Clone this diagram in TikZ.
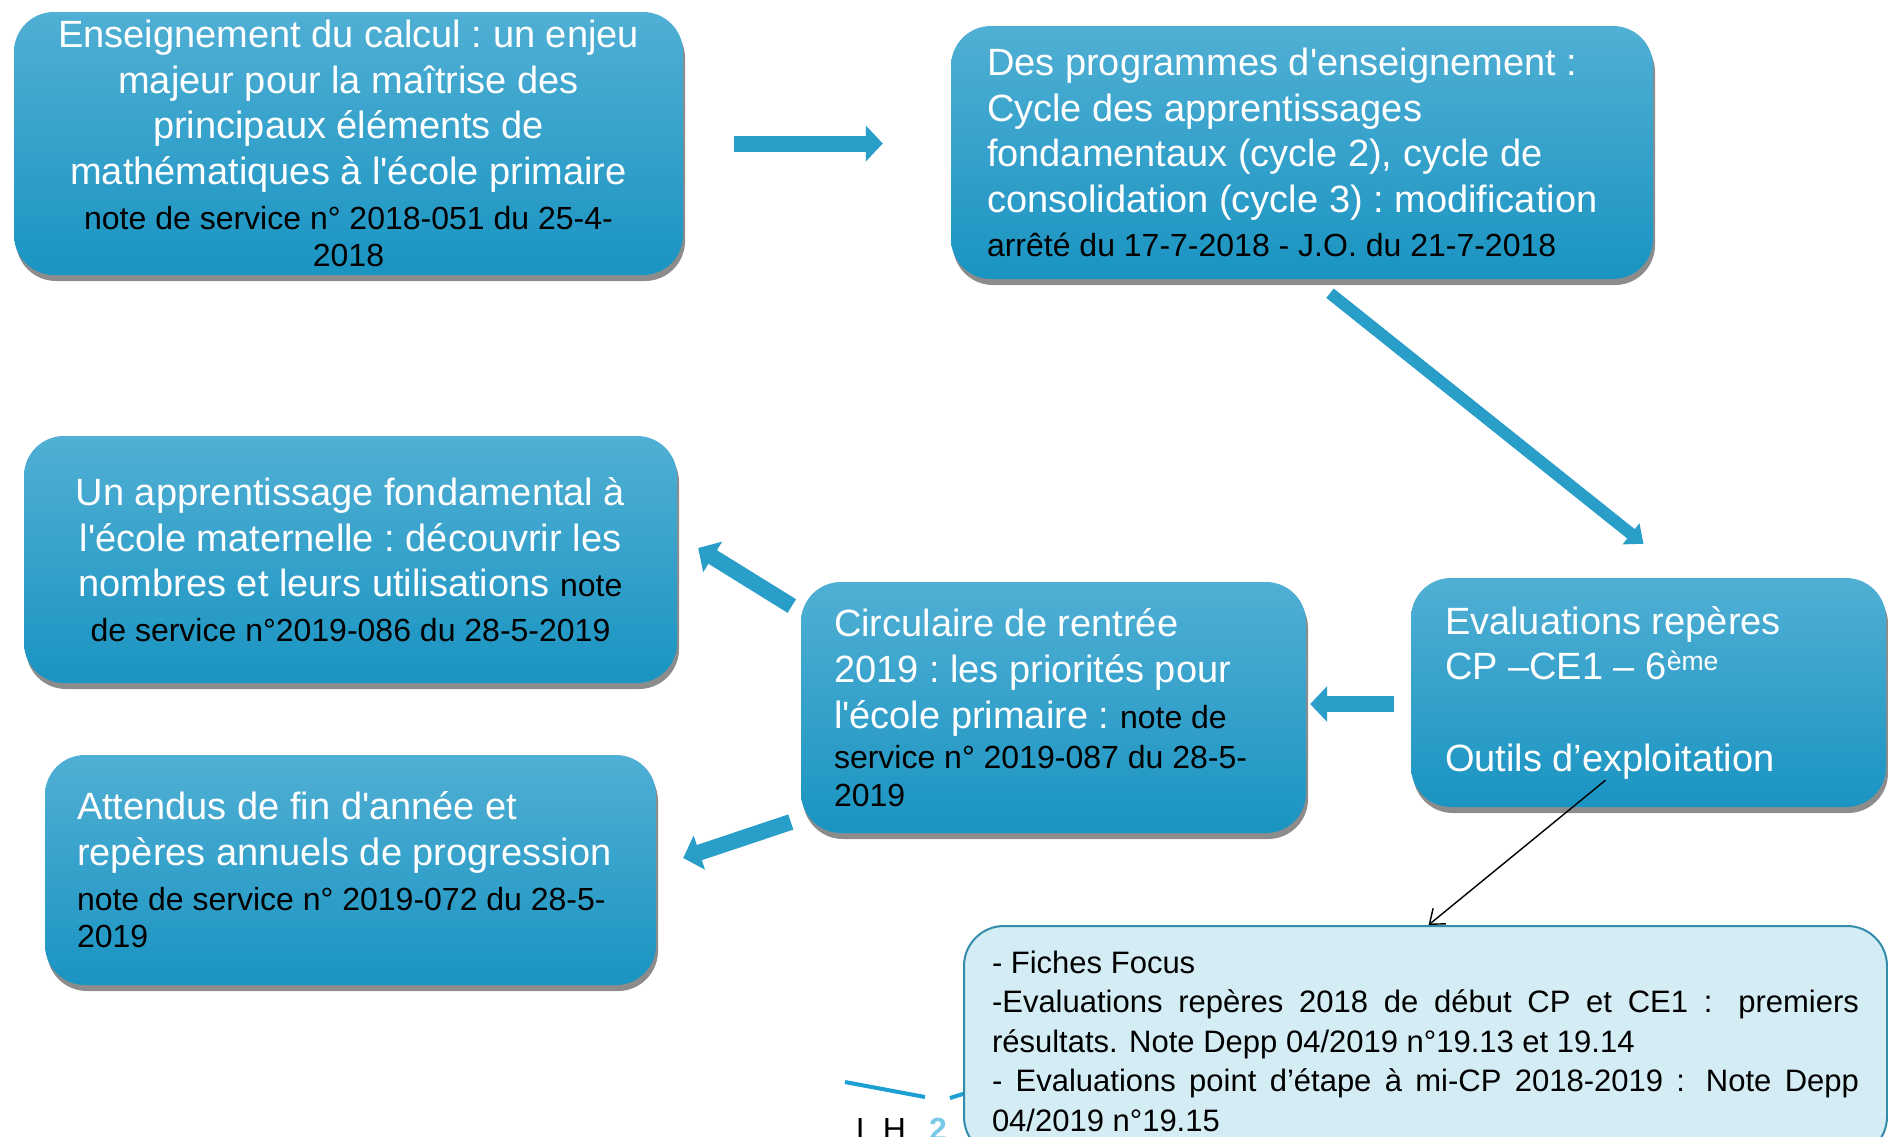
\documentclass[tikz,border=0pt]{standalone}
\usepackage{fontspec}
\setmainfont{Liberation Sans}
\usetikzlibrary{arrows.meta, shadows}
\definecolor{bleuhaut}{RGB}{80,175,212}
\definecolor{bleubas}{RGB}{26,148,194}
\definecolor{bleufleche}{RGB}{41,158,200}
\definecolor{bleuclair}{RGB}{212,236,244}
\definecolor{bleubord}{RGB}{52,140,172}
\definecolor{bleulogo}{RGB}{28,160,212}
\definecolor{bleulogoclair}{RGB}{120,200,232}
\setlength{\parindent}{0pt}
\newcommand{\espace}{\spaceskip=\fontdimen2\font\xspaceskip=\fontdimen2\font\relax}
\newcommand{\titre}{\fontsize{38}{45.7}\selectfont\espace\color{white}}
\newcommand{\notepar}[1][7pt]{\par\vspace{#1}\fontsize{32}{37.5}\selectfont\espace\color{black}}
\newcommand{\notetxt}[1]{{\fontsize{32}{37.5}\selectfont\espace\color{black}#1}}
\newcommand{\apos}{\textquotesingle}
\tikzstyle{boite} = [rectangle, rounded corners=40pt, inner ysep=0pt, text=white, top color=bleuhaut, bottom color=bleubas, drop shadow={shadow xshift=2pt, shadow yshift=-6pt, opacity=0.45, fill=black}]
\tikzstyle{fichebox} = [rectangle, rounded corners=40pt, fill=bleuclair, draw=bleubord, line width=2pt, text=black]
\tikzstyle{fleche} = [line width=16pt, draw=bleufleche, -{Triangle[length=17pt, width=35pt]}]
\tikzstyle{fine} = [line width=1.4pt, -{Straight Barb[length=13pt, width=20pt]}]

\begin{document}
\begin{tikzpicture}[x=1pt, y=-1pt]
    \useasboundingbox (0,0) rectangle (1888,1136);
    \fill [white] (0,0) rectangle (1888,1136);
    \clip (0,0) rectangle (1888,1136);

    % les boites
    \node (calcul) [boite, minimum width=669pt, minimum height=263pt, text width=629pt, align=center] at (348.5,143.5) {\titre Enseignement du calcul : un enjeu\\ majeur pour la maîtrise des\\ principaux éléments de\\ mathématiques à l\apos école primaire\notepar note de service n° 2018-051 du 25-4-\\ 2018\par};
    \node (programmes) [boite, minimum width=702pt, minimum height=253pt, text width=630pt, align=left] at (1302,152.5) {\titre Des programmes d\apos enseignement :\\ Cycle des apprentissages\\ fondamentaux (cycle 2), cycle de\\ consolidation (cycle 3) : modification\notepar arrêté du 17-7-2018 - J.O. du 21-7-2018\par};
    \node (evaluations) [boite, minimum width=475pt, minimum height=229pt, text width=407pt, align=left] at (1648.5,692.5) {\titre Evaluations repères\\ CP –CE1 – 6\textsuperscript{ème}\\ \mbox{}\\ Outils d’exploitation\par};
    \node (circulaire) [boite, minimum width=505pt, minimum height=251pt, text width=439pt, align=left] at (1053.5,707.5) {\titre Circulaire de rentrée\\ 2019 : les priorités pour\\ l\apos école primaire : \notetxt{note de}\notepar[3pt] service n° 2019-087 du 28-5-\\ 2019\par};
    \node (maternelle) [boite, minimum width=653pt, minimum height=247pt, text width=613pt, align=center] at (350.5,559.5) {\titre Un apprentissage fondamental à\\ l\apos école maternelle : découvrir les\\ nombres et leurs utilisations \notetxt{note}\notepar de service n°2019-086 du 28-5-2019\par};
    \node (attendus) [boite, minimum width=611pt, minimum height=230pt, text width=547pt, align=left] at (350.5,870) {\titre Attendus de fin d\apos année et\\ repères annuels de progression\notepar note de service n° 2019-072 du 28-5-\\ 2019\par};

    % logo en bas
    \draw [bleulogo, line width=4pt] (845,1082) -- (925,1097);
    \draw [bleulogo, line width=4pt] (950,1098) -- (966,1093);
    \node (logoLH) [anchor=base, font=\fontsize{32}{32}\selectfont] at (881,1140) {L H};
    \node (logo2) [anchor=base, text=bleulogoclair, font=\bfseries\fontsize{32}{32}\selectfont] at (938,1140) {2};

    \node (fiches) [fichebox, anchor=north west, minimum width=923pt, text width=867pt, align=justify, inner ysep=25pt] at (963,925) {\fontsize{31}{39.5}\selectfont - Fiches Focus\par -Evaluations repères 2018 de début CP et CE1 : premiers\linebreak résultats. Note Depp 04/2019 n°19.13 et 19.14\par - Evaluations point d’étape à mi-CP 2018-2019 : Note Depp\linebreak 04/2019 n°19.15\par};

    % les fleches
    \draw [fleche, shorten <=51pt, shorten >=68pt] (calcul.east) -- (calcul.east -| programmes.west);
    \draw [fleche, line width=12pt, -{Triangle[length=16pt, width=26pt]}] ([shift={(28,14)}]programmes.south) -- ([shift={(-5,-34)}]evaluations.north);
    \draw [fleche] ([shift={(-17,11.5)}]evaluations.west) -- ([shift={(4,-3.5)}]circulaire.east);
    \draw [fleche] ([shift={(-9,-101.5)}]circulaire.west) -- ([shift={(21,-11.5)}]maternelle.east);
    \draw [fleche] ([shift={(-10,114.5)}]circulaire.west) -- ([shift={(27,-12)}]attendus.east);
    \coordinate (outils) at ([shift={(-43,-27)}]evaluations.south);
    \draw [fine] (outils) -- ([shift={(3,0)}]fiches.north);
\end{tikzpicture}
\end{document}
